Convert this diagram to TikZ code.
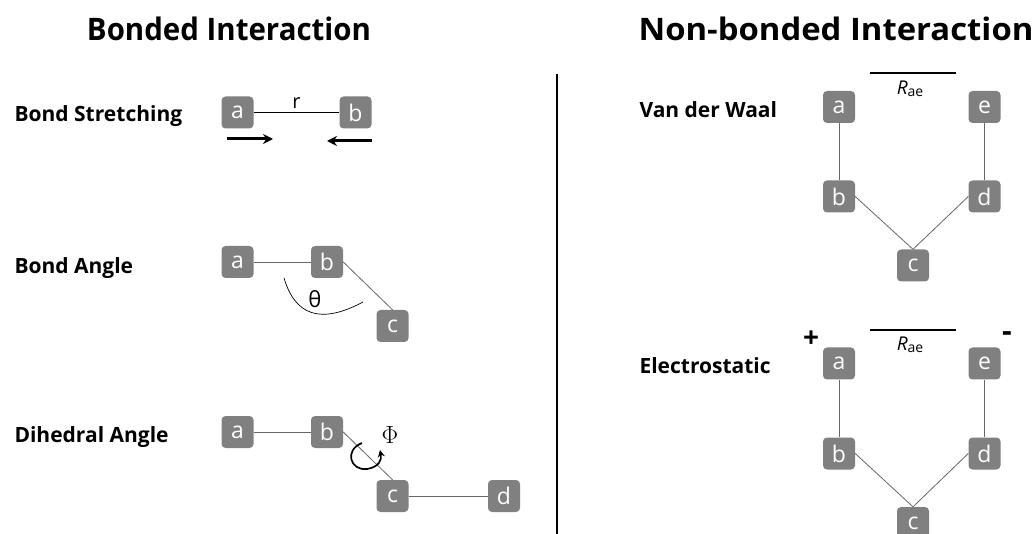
\documentclass[tikz,border=0pt]{standalone}
\usepackage{fontspec}
\setmainfont{Open Sans}
\usetikzlibrary{arrows.meta}
\begin{document}
\begin{tikzpicture}[x=1pt,y=-1pt,
  atom/.style={fill=black!50, text=white, rounded corners=4pt, minimum width=32pt, minimum height=32pt, inner sep=0pt, font=\fontsize{23}{23}\selectfont},
  lbl/.style={anchor=west, font=\bfseries\fontsize{21}{21}\selectfont},
  ttl/.style={font=\bfseries\fontsize{31}{31}\selectfont},
  bond/.style={draw=black!60, line width=0.8pt},
  push/.style={line width=3pt, -{Stealth[length=10pt,width=10pt]}},
  rae/.style={font=\fontsize{19}{19}\selectfont}]
\useasboundingbox (0,0) rectangle (1036,534);
% titles
\node[ttl, xscale=0.95] (t1) at (229,29) {Bonded Interaction};
\node[ttl, xscale=1.06] (t2) at (836,29) {Non-bonded Interaction};
\draw[line width=1.3pt] (557,74) -- (557,534);
% bond stretching
\node[lbl] (l1) at (11,116) {Bond Stretching};
\node[atom] (sa) at (237.5,112.5) {a};
\node[atom] (sb) at (355.5,112.5) {b};
\draw[line width=0.8pt] (sa) -- node[above=0pt, font=\fontsize{20}{20}\selectfont] {r} (sb);
\coordinate (p1) at (227,139); \coordinate (p2) at (273,139);
\coordinate (p3) at (372,141); \coordinate (p4) at (327,141);
\draw[push] (p1) -- (p2);
\draw[push] (p3) -- (p4);
% bond angle
\node[lbl] (l2) at (11,268) {Bond Angle};
\node[atom] (ba) at (237.5,262) {a};
\node[atom] (bb) at (327,262) {b};
\node[atom] (bc) at (392.5,326) {c};
\draw[bond] (ba) -- (bb);
\draw[bond] (bb.east) -- (bc.north);
\coordinate (th1) at (284,278); \coordinate (th2) at (363,302);
\draw[line width=0.7pt] (th1) .. controls (295,315) and (320,325) .. (th2);
\node[font=\fontsize{22}{22}\selectfont] (th) at (315,299) {θ};
% dihedral
\node[lbl] (l3) at (11,437) {Dihedral Angle};
\node[atom] (da) at (237.5,432) {a};
\node[atom] (db) at (327,432) {b};
\node[atom] (dc) at (392.5,496) {c};
\node[atom] (dd) at (504,496) {d};
\draw[bond] (da) -- (db);
\draw[bond] (db.east) -- (dc.north);
\draw[bond] (dc) -- (dd);
\node[font=\fontsize{27}{27}\selectfont] (phi) at (390,435) {$\Phi$};
\coordinate (r1) at (362,443); \coordinate (r2) at (380,450);
\draw[line width=1.7pt, -{Stealth[length=7pt,width=7pt]}] (r1) .. controls (344,450) and (350,471) .. (367,469) .. controls (379,467) and (382,460) .. (r2);
% van der waal
\node[lbl] (l4) at (636,110) {Van der Waal};
\node[atom] (va) at (839,107) {a};
\node[atom] (ve) at (984.5,107) {e};
\node[atom] (vb) at (839,196.5) {b};
\node[atom] (vd) at (984.5,196.5) {d};
\node[atom] (vc) at (913,265.5) {c};
\draw[bond] (va) -- (vb);
\draw[bond] (ve) -- (vd);
\draw[bond] (vb.east) -- (vc.north);
\draw[bond] (vd.west) -- (vc.north);
\coordinate (v1) at (870,73); \coordinate (v2) at (956,73);
\draw[line width=1.2pt] (v1) -- (v2);
\node[rae] (vr) at (910,89) {\textit{R}\raisebox{-2pt}{\fontsize{14}{14}\selectfont ae}};
% electrostatic
\node[lbl] (l5) at (636,366) {Electrostatic};
\node[atom] (ea) at (839,363.5) {a};
\node[atom] (ee) at (984.5,363.5) {e};
\node[atom] (eb) at (839,453.5) {b};
\node[atom] (ed) at (984.5,453.5) {d};
\node[atom] (ec) at (913,523) {c};
\draw[bond] (ea) -- (eb);
\draw[bond] (ee) -- (ed);
\draw[bond] (eb.east) -- (ec.north);
\draw[bond] (ed.west) -- (ec.north);
\coordinate (e1) at (870,330); \coordinate (e2) at (956,330);
\draw[line width=1.2pt] (e1) -- (e2);
\node[rae] (er) at (910,345) {\textit{R}\raisebox{-2pt}{\fontsize{14}{14}\selectfont ae}};
\node[font=\bfseries\fontsize{28}{28}\selectfont] (plus) at (811,339) {+};
\node[font=\bfseries\fontsize{30}{30}\selectfont] (minus) at (1007,337) {-};
\end{tikzpicture}
\end{document}
